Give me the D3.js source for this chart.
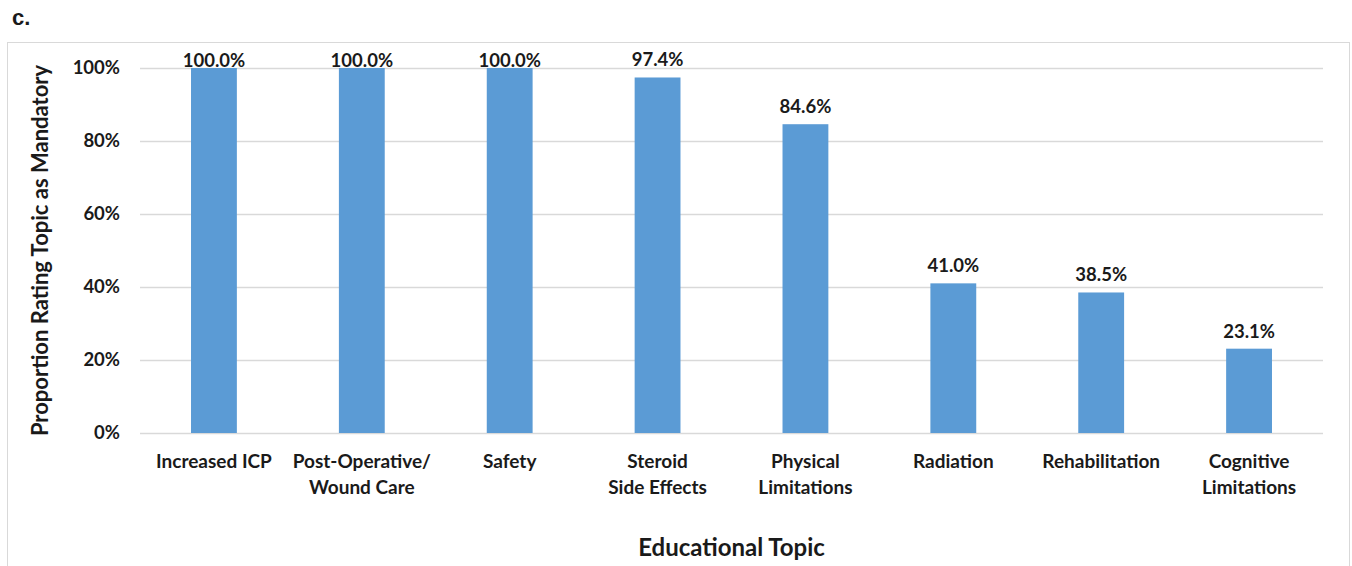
<!DOCTYPE html>
<html>
<head>
<meta charset="utf-8">
<script src="https://cdn.jsdelivr.net/npm/d3@7"></script>
<style>
  body { margin: 0; background: #fff; }
  svg text { font-family: Lato, "Open Sans", sans-serif; font-weight: bold; fill: #1a1a1a; }
</style>
</head>
<body>
<svg id="chart" width="1352" height="566"></svg>
<script>
// data
var topics = [
  ["Increased ICP"],
  ["Post-Operative/", "Wound Care"],
  ["Safety"],
  ["Steroid", "Side Effects"],
  ["Physical", "Limitations"],
  ["Radiation"],
  ["Rehabilitation"],
  ["Cognitive", "Limitations"]
];
var values = [100.0, 100.0, 100.0, 97.4, 84.6, 41.0, 38.5, 23.1];
var yTicks = [0, 20, 40, 60, 80, 100];

var svg = d3.select("#chart");
var margin = {left: 140, right: 29, top: 68, bottom: 133};
var W = 1352, H = 566;

// panel letter
svg.append("text")
  .attr("x", 12).attr("y", 25)
  .style("font-family", "Arial, 'Liberation Sans', sans-serif")
  .style("font-size", "22px")
  .text("c.");

// chart frame
svg.append("rect")
  .attr("x", 7.5).attr("y", 42.5)
  .attr("width", 1342).attr("height", 540)
  .attr("fill", "none")
  .attr("stroke", "#d9d9d9");

var x = d3.scaleBand()
  .domain(d3.range(topics.length))
  .range([margin.left, W - margin.right])
  .paddingInner(0.69)
  .paddingOuter(0.345);

var y = d3.scaleLinear()
  .domain([0, 100])
  .range([H - margin.bottom, margin.top]);

// gridlines
svg.append("g")
  .selectAll("line")
  .data(yTicks)
  .join("line")
  .attr("x1", margin.left).attr("x2", W - margin.right)
  .attr("y1", function(d){ return Math.round(y(d)) + 0.5; })
  .attr("y2", function(d){ return Math.round(y(d)) + 0.5; })
  .attr("stroke", "#d9d9d9")
  .attr("stroke-width", 1.5);

// y axis labels
var yAxis = d3.axisLeft(y).tickValues(yTicks).tickSize(0).tickPadding(0)
  .tickFormat(function(d){ return d + "%"; });
var ya = svg.append("g")
  .attr("transform", "translate(" + (margin.left - 20) + ",0)")
  .call(yAxis);
ya.select(".domain").remove();
ya.selectAll("text")
  .style("font-size", "18.5px")
  .attr("fill", "#1a1a1a");

// bars
svg.append("g")
  .selectAll("rect")
  .data(values)
  .join("rect")
  .attr("x", function(d, i){ return x(i); })
  .attr("width", x.bandwidth())
  .attr("y", function(d){ return y(d); })
  .attr("height", function(d){ return y(0) - y(d); })
  .attr("fill", "#5b9bd5");

// value labels
svg.append("g")
  .selectAll("text")
  .data(values)
  .join("text")
  .attr("x", function(d, i){ return x(i) + x.bandwidth() / 2; })
  .attr("y", function(d){ return y(d) - (d >= 99 ? 1 : 11); })
  .attr("text-anchor", "middle")
  .style("font-size", "18.5px")
  .text(function(d){ return d.toFixed(1) + "%"; });

// category labels
var cat = svg.append("g")
  .selectAll("text")
  .data(topics)
  .join("text")
  .attr("text-anchor", "middle")
  .attr("transform", function(d, i){
    return "translate(" + (x(i) + x.bandwidth() / 2) + "," + (y(0) + 35) + ")";
  })
  .style("font-size", "19px");
cat.selectAll("tspan")
  .data(function(d){ return d; })
  .join("tspan")
  .attr("x", 0)
  .attr("dy", function(d, j){ return j === 0 ? 0 : 26; })
  .text(function(d){ return d; });

// axis titles
svg.append("text")
  .attr("x", (margin.left + W - margin.right) / 2)
  .attr("y", 556)
  .attr("text-anchor", "middle")
  .style("font-size", "24px")
  .text("Educational Topic");

svg.append("text")
  .attr("transform", "translate(48," + y(50) + ") rotate(-90)")
  .attr("text-anchor", "middle")
  .style("font-size", "22px")
  .text("Proportion Rating Topic as Mandatory");
</script>
</body>
</html>
